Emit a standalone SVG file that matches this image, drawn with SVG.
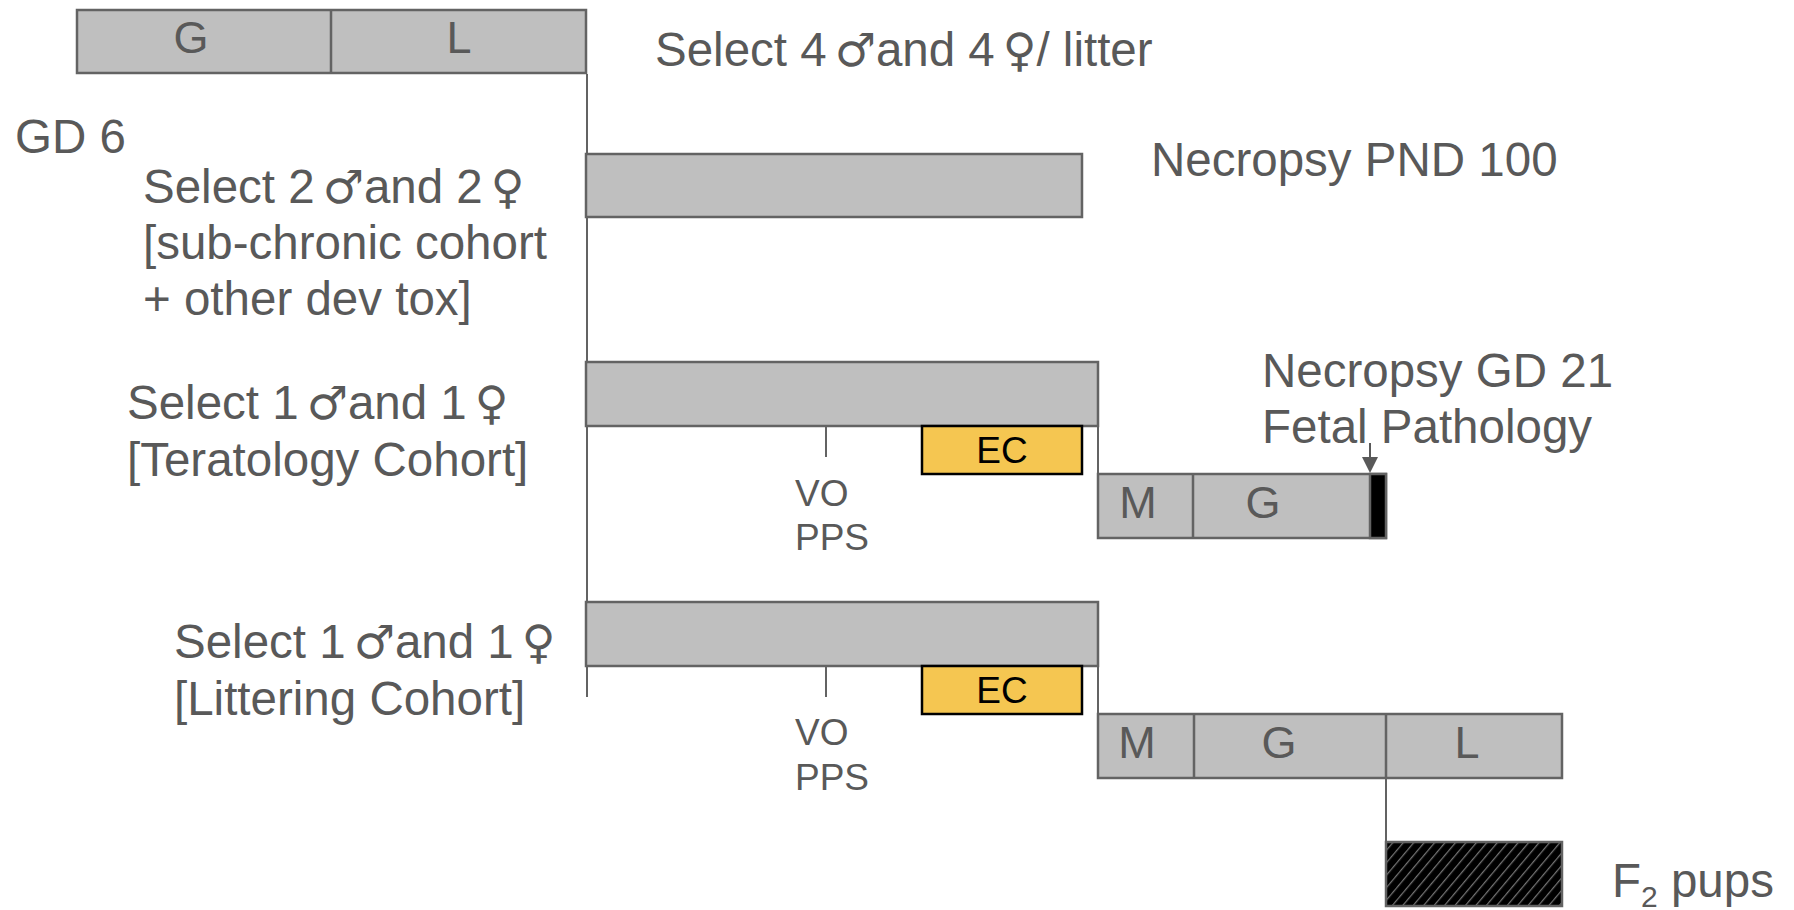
<svg xmlns="http://www.w3.org/2000/svg" width="1794" height="910" viewBox="0 0 1794 910">
  <defs>
    <style>
      .lbl { font-family: "Liberation Sans", Arial, sans-serif; font-size: 47.5px; fill: #595959; }
      .sym { font-family: "DejaVu Sans", sans-serif; font-size: 46px; }
      .seg { font-family: "Liberation Sans", Arial, sans-serif; font-size: 45px; fill: #595959; text-anchor: middle; }
      .sm { font-family: "Liberation Sans", Arial, sans-serif; font-size: 37px; fill: #595959; }
      .ec { font-family: "Liberation Sans", Arial, sans-serif; font-size: 37px; fill: #000000; text-anchor: middle; }
      .bar { fill: #BFBFBF; stroke: #636363; stroke-width: 2.5; }
      .div { stroke: #636363; stroke-width: 2.5; fill: none; }
      .ecbox { fill: #F5C651; stroke: #000000; stroke-width: 2.5; }
      .wire { stroke: #636363; stroke-width: 2; fill: none; }
    </style>
    <pattern id="hatch" patternUnits="userSpaceOnUse" width="8" height="8" patternTransform="rotate(40)">
      <rect width="8" height="8" fill="#000000"/>
      <line x1="0" y1="0" x2="0" y2="8" stroke="#747474" stroke-width="2.5"/>
    </pattern>
  </defs>

  <!-- connectors -->
  <g id="connectors">
    <line class="wire" x1="587" y1="74" x2="587" y2="697"/>
    <line class="wire" x1="826" y1="426" x2="826" y2="457"/>
    <line class="wire" x1="826" y1="666" x2="826" y2="697"/>
    <line class="wire" x1="1098" y1="426" x2="1098" y2="474"/>
    <line class="wire" x1="1098" y1="666" x2="1098" y2="714"/>
    <line class="wire" x1="1386" y1="778" x2="1386" y2="842"/>
    <line x1="1370" y1="443" x2="1370" y2="457" stroke="#595959" stroke-width="2"/>
    <path d="M1362,457 L1378,457 L1370,473 z" fill="#595959"/>
  </g>

  <!-- F0 dam: gestation and lactation -->
  <g id="dam">
    <rect class="bar" x="77" y="10" width="509" height="63"/>
    <line class="div" x1="331" y1="10" x2="331" y2="73"/>
    <text class="seg" x="191" y="53">G</text>
    <text class="seg" x="459" y="53">L</text>
  </g>

  <g id="select-litter">
    <text class="lbl" x="655" y="66">Select 4<tspan class="sym" dx="8">♂</tspan>and 4<tspan class="sym" dx="8">♀</tspan>/ litter</text>
  </g>

  <g id="gd6">
    <text class="lbl" x="15" y="153">GD 6</text>
  </g>

  <!-- sub-chronic cohort -->
  <g id="subchronic">
    <text class="lbl" x="143" y="203">Select 2<tspan class="sym" dx="8">♂</tspan>and 2<tspan class="sym" dx="8">♀</tspan></text>
    <text class="lbl" x="143" y="259">[sub-chronic cohort</text>
    <text class="lbl" x="143" y="315">+ other dev tox]</text>
    <rect class="bar" x="586" y="154" width="496" height="63"/>
    <text class="lbl" x="1151" y="176">Necropsy PND 100</text>
  </g>

  <!-- teratology cohort -->
  <g id="teratology">
    <text class="lbl" x="127" y="419">Select 1<tspan class="sym" dx="8">♂</tspan>and 1<tspan class="sym" dx="8">♀</tspan></text>
    <text class="lbl" x="127" y="476">[Teratology Cohort]</text>
    <rect class="bar" x="586" y="362" width="512" height="64"/>
    <rect class="ecbox" x="922" y="426" width="160" height="48"/>
    <text class="ec" x="1002" y="463">EC</text>
    <text class="sm" x="795" y="506">VO</text>
    <text class="sm" x="795" y="550">PPS</text>
    <rect class="bar" x="1098" y="474" width="288" height="64"/>
    <line class="div" x1="1193" y1="474" x2="1193" y2="538"/>
    <rect x="1370" y="474" width="16" height="64" fill="#000000" stroke="#636363" stroke-width="2.5"/>
    <text class="seg" x="1138" y="518">M</text>
    <text class="seg" x="1263" y="518">G</text>
    <text class="lbl" x="1262" y="387">Necropsy GD 21</text>
    <text class="lbl" x="1262" y="443">Fetal Pathology</text>
  </g>

  <!-- littering cohort -->
  <g id="littering">
    <text class="lbl" x="174" y="658">Select 1<tspan class="sym" dx="8">♂</tspan>and 1<tspan class="sym" dx="8">♀</tspan></text>
    <text class="lbl" x="174" y="715">[Littering Cohort]</text>
    <rect class="bar" x="586" y="602" width="512" height="64"/>
    <rect class="ecbox" x="922" y="666" width="160" height="48"/>
    <text class="ec" x="1002" y="703">EC</text>
    <text class="sm" x="795" y="745">VO</text>
    <text class="sm" x="795" y="790">PPS</text>
    <rect class="bar" x="1098" y="714" width="464" height="64"/>
    <line class="div" x1="1194" y1="714" x2="1194" y2="778"/>
    <line class="div" x1="1386" y1="714" x2="1386" y2="778"/>
    <text class="seg" x="1137" y="758">M</text>
    <text class="seg" x="1279" y="758">G</text>
    <text class="seg" x="1467" y="758">L</text>
  </g>

  <!-- F2 pups -->
  <g id="f2">
    <rect x="1386" y="842" width="176" height="64" fill="url(#hatch)" stroke="#636363" stroke-width="2.5"/>
    <text class="lbl" x="1612" y="897">F<tspan font-size="30" dy="10">2</tspan><tspan dy="-10"> pups</tspan></text>
  </g>
</svg>
